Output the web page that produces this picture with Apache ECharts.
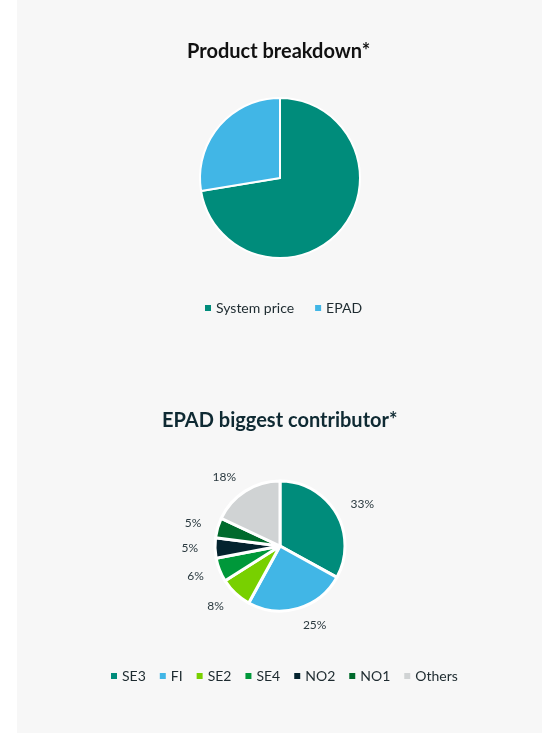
<!DOCTYPE html>
<html>
<head>
<meta charset="utf-8">
<script src="https://cdn.jsdelivr.net/npm/echarts@6/dist/echarts.min.js"></script>
<style>
  html, body { margin: 0; padding: 0; background: #fff; }
  .panel { position: absolute; left: 17px; top: 0; width: 525px; height: 733px; background: #f7f7f7; }
  #main { position: absolute; left: 0; top: 0; width: 544px; height: 733px; }
</style>
</head>
<body>
<div class="panel"></div>
<div id="main"></div>
<script>
// product breakdown (share, %)
const productNames = ['System price', 'EPAD']
const productValues = [72.4, 27.6]
const productColors = ['#008c7b', '#41b6e6']

// EPAD biggest contributor (share, %)
const areaNames = ['SE3', 'FI', 'SE2', 'SE4', 'NO2', 'NO1', 'Others']
const areaValues = [33, 25, 8, 6, 5, 5, 18]
const areaColors = ['#008c7b', '#41b6e6', '#78d000', '#00983a', '#04232e', '#006a2c', '#d0d3d4']

const font = 'Lato'

let mychart = echarts.init(document.getElementById('main'), null, { renderer: 'canvas' })

mychart.setOption({
  backgroundColor: 'transparent',
  animation: false,
  title: [
    {
      text: 'Product breakdown*',
      left: 182,
      top: 37,
      textStyle: { fontFamily: font, fontSize: 20, fontWeight: 'bold', color: '#111' }
    },
    {
      text: 'EPAD biggest contributor*',
      left: 157,
      top: 406,
      textStyle: { fontFamily: font, fontSize: 20, fontWeight: 'bold', color: '#0f2a33' }
    }
  ],
  legend: [
    {
      data: productNames,
      top: 296,
      left: 200,
      icon: 'rect',
      itemWidth: 6,
      itemHeight: 6,
      itemGap: 21,
      itemStyle: { borderWidth: 0 },
      textStyle: { fontFamily: font, fontSize: 14, color: '#1e2b30' }
    },
    {
      data: areaNames,
      top: 664,
      left: 106,
      icon: 'rect',
      itemWidth: 6,
      itemHeight: 6,
      itemGap: 14,
      itemStyle: { borderWidth: 0 },
      textStyle: { fontFamily: font, fontSize: 14, color: '#1e2b30' }
    }
  ],
  series: [
    {
      name: 'Product breakdown',
      type: 'pie',
      center: [280, 178],
      radius: 80,
      startAngle: 90,
      clockwise: true,
      label: { show: false },
      labelLine: { show: false },
      itemStyle: { borderColor: '#fff', borderWidth: 2 },
      data: productNames.map((n, i) => ({ name: n, value: productValues[i], itemStyle: { color: productColors[i] } }))
    },
    {
      name: 'EPAD biggest contributor',
      type: 'pie',
      center: [280, 546],
      radius: 65,
      startAngle: 90,
      clockwise: true,
      label: {
        show: true,
        position: 'outside',
        formatter: '{c}%',
        distanceToLabelLine: 0,
        fontFamily: font,
        fontSize: 12,
        color: '#2b3a40'
      },
      labelLine: { show: false, length: 17, length2: 0 },
      itemStyle: { borderColor: '#fff', borderWidth: 3 },
      data: areaNames.map((n, i) => ({ name: n, value: areaValues[i], itemStyle: { color: areaColors[i] } }))
    }
  ]
})
</script>
</body>
</html>
